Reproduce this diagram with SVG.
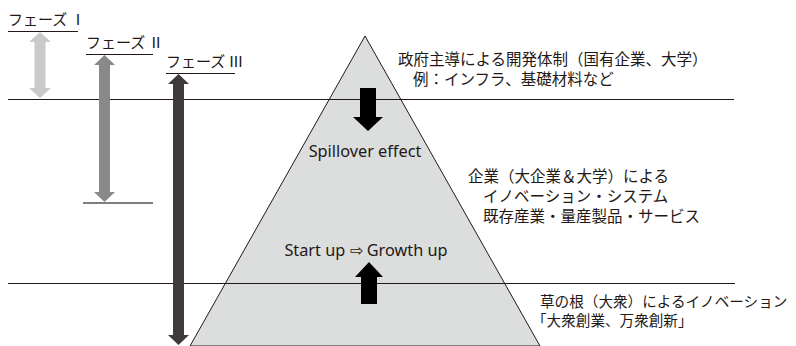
<svg xmlns="http://www.w3.org/2000/svg" width="796" height="346" viewBox="0 0 796 346">
<style>
.t{font-family:"Noto Sans CJK JP","Noto Sans",sans-serif;font-size:15.5px;fill:#231815}
.p{font-size:15px}
.g{font-size:14.6px}
.e{font-family:"Noto Sans","Liberation Sans",sans-serif;font-size:16.3px;fill:#231815}
.ln{stroke:#231815;stroke-width:1;fill:none}
</style>
<g id="pyramid">
<polygon points="365,36 540,346 190,346" fill="#dcdddd" stroke="#231815" stroke-width="1"/>
</g>
<g id="connectors">
<line class="ln" x1="8" y1="99.5" x2="734" y2="99.5"/>
<line class="ln" x1="8" y1="283.5" x2="735" y2="283.5"/>
<line class="ln" x1="8" y1="31.5" x2="78" y2="31.5"/>
<line class="ln" x1="86" y1="54.5" x2="153" y2="54.5"/>
<line class="ln" x1="166" y1="73.5" x2="235" y2="73.5"/>
<line x1="83" y1="203" x2="153" y2="203" stroke="#555" stroke-width="1.4"/>
<polygon id="arrow1" fill="#c9caca" points="40,32 51,42 45.5,42 45.5,88 51,88 40,98 29,88 34.5,88 34.5,42 29,42"/>
<polygon id="arrow2" fill="#898989" points="104.5,55 115,65 110,65 110,192 115,192 104.5,202 94,192 99,192 99,65 94,65"/>
<polygon id="arrow3" fill="#3e3a39" points="178.5,74 189,84 184,84 184,335 189,335 178.5,345 168,335 173,335 173,84 168,84"/>
<polygon id="down" fill="#000" points="360,88 376,88 376,117 383,117 368,131 353,117 360,117"/>
<polygon id="up" fill="#000" points="369,262 383,277 377,277 377,304 361,304 361,277 355,277"/>
</g>
<g id="phase1"><text class="t p" x="8" y="25">フェーズ Ⅰ</text></g>
<g id="phase2"><text class="t p" x="86" y="48">フェーズ Ⅱ</text></g>
<g id="phase3"><text class="t p" x="166" y="67">フェーズ Ⅲ</text></g>
<g id="spill"><text class="e" x="365" y="157" text-anchor="middle">Spillover effect</text></g>
<g id="startup"><text class="e" x="366" y="256" text-anchor="middle">Start up ⇨ Growth up</text></g>
<g id="gov">
<text class="t" x="398" y="65">政府主導による開発体制（国有企業、大学）</text>
<text class="t" x="413" y="85">例：インフラ、基礎材料など</text>
</g>
<g id="corp">
<text class="t" x="468" y="182">企業（大企業＆大学）による</text>
<text class="t" x="483" y="202">イノベーション・システム</text>
<text class="t" x="483" y="222">既存産業・量産製品・サービス</text>
</g>
<g id="grass">
<text class="t g" x="540" y="307">草の根（大衆）によるイノベーション</text>
<text class="t g" x="532" y="326">「大衆創業、万衆創新」</text>
</g>
</svg>
